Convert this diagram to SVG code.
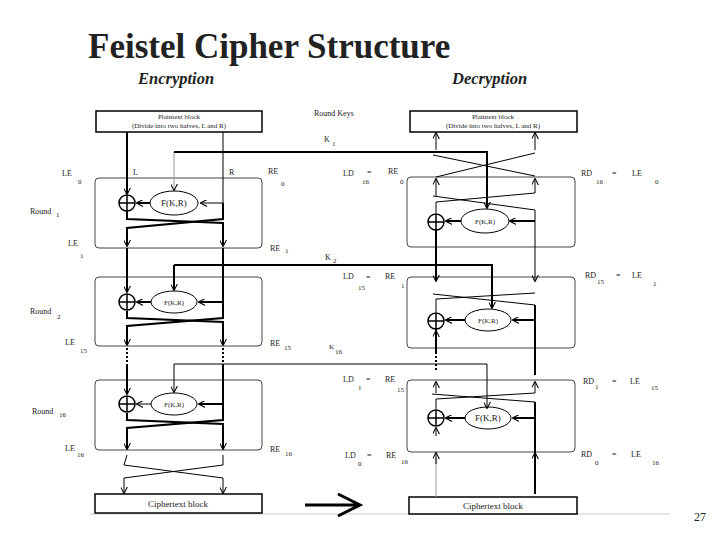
<svg xmlns="http://www.w3.org/2000/svg" width="720" height="540" viewBox="0 0 720 540">
<style>
text{font-family:"Liberation Serif",serif;fill:#222}
.s{font-size:8px}.l{font-size:9px}.b{font-size:7px}
.box{fill:#fff;stroke:#000;stroke-width:1.5}
.rnd{fill:none;stroke:#444;stroke-width:1}
.k{fill:none;stroke:#000;stroke-width:2}
.t{fill:none;stroke:#000;stroke-width:1}
.g{fill:none;stroke:#999;stroke-width:1}
.d{fill:none;stroke:#000;stroke-width:2;stroke-dasharray:2 2}
</style>
<defs>
<marker id="a" viewBox="0 0 10 10" refX="9" refY="5" markerWidth="7" markerHeight="7" markerUnits="userSpaceOnUse" orient="auto"><path d="M0,0L10,5L0,10" fill="none" stroke="#000" stroke-width="1.5"/></marker>
</defs>
<rect width="720" height="540" fill="#fff"/>
<text x="88" y="58" style="font-size:35px;font-weight:bold" fill="#000">Feistel Cipher Structure</text>
<text x="138" y="84" style="font-size:16.5px;font-weight:bold;font-style:italic">Encryption</text>
<text x="452" y="84" style="font-size:16.5px;font-weight:bold;font-style:italic">Decryption</text>
<line x1="90" y1="514" x2="670" y2="514" stroke="#ccc"/>
<text x="694" y="521" style="font-size:12px">27</text>

<g id="enc-plain"><rect class="box" x="96" y="111" width="166" height="21"/><text class="b" x="179" y="119" text-anchor="middle">Plaintext block</text><text class="b" x="179" y="128" text-anchor="middle">(Divide into two halves, L and R)</text></g>
<g id="dec-plain"><rect class="box" x="410" y="111" width="167" height="21"/><text class="b" x="493" y="119" text-anchor="middle">Plaintext block</text><text class="b" x="493" y="128" text-anchor="middle">(Divide into two halves, L and R)</text></g>
<g id="enc-cipher"><rect class="box" x="95" y="494" width="167" height="19"/><text class="l" x="178" y="507" text-anchor="middle">Ciphertext block</text></g>
<g id="dec-cipher"><rect class="box" x="409" y="497" width="168" height="17"/><text class="l" x="493" y="509" text-anchor="middle">Ciphertext block</text></g>

<g id="enc-rounds">
<rect class="rnd" x="95" y="178" width="167" height="70" rx="4"/>
<rect class="rnd" x="95" y="277" width="167" height="69" rx="4"/>
<rect class="rnd" x="95" y="380" width="167" height="70" rx="4"/>
</g>
<g id="dec-rounds">
<rect class="rnd" x="407" y="177" width="168" height="70" rx="4"/>
<rect class="rnd" x="407" y="277" width="168" height="71" rx="4"/>
<rect class="rnd" x="407" y="380" width="168" height="72" rx="4"/>
</g>

<g id="functions" fill="#fff" stroke="#000">
<circle cx="127" cy="203" r="8" stroke-width="1.5"/><path d="M119,203h16M127,195v16" stroke-width="1.5"/><ellipse cx="174" cy="203" rx="24" ry="12"/>
<circle cx="127" cy="302" r="8" stroke-width="1.5"/><path d="M119,302h16M127,294v16" stroke-width="1.5"/><ellipse cx="174" cy="302" rx="23" ry="11"/>
<circle cx="127" cy="404" r="8" stroke-width="1.5"/><path d="M119,404h16M127,396v16" stroke-width="1.5"/><ellipse cx="174" cy="404" rx="23" ry="11"/>
<circle cx="436" cy="222" r="8" stroke-width="1.5"/><path d="M428,222h16M436,214v16" stroke-width="1.5"/><ellipse cx="485" cy="221" rx="24" ry="12"/>
<circle cx="436" cy="321" r="8" stroke-width="1.5"/><path d="M428,321h16M436,313v16" stroke-width="1.5"/><ellipse cx="488" cy="320" rx="23" ry="11"/>
<circle cx="436" cy="418" r="8" stroke-width="1.5"/><path d="M428,418h16M436,410v16" stroke-width="1.5"/><ellipse cx="488" cy="418" rx="23" ry="11"/>
</g>
<g id="flabels" class="l">
<text x="174" y="206" text-anchor="middle" class="l">F(K,R)</text>
<text x="174" y="305" text-anchor="middle" class="b">F(K,R)</text>
<text x="174" y="407" text-anchor="middle" class="b">F(K,R)</text>
<text x="485" y="224" text-anchor="middle" class="b">F(K,R)</text>
<text x="488" y="323" text-anchor="middle" class="b">F(K,R)</text>
<text x="488" y="421" text-anchor="middle" class="l">F(K,R)</text>
</g>

<g id="connectors">
<path class="k" d="M127,132V194" marker-end="url(#a)"/>
<path class="t" d="M223,132V203H201" marker-end="url(#a)"/>
<path class="k" d="M150,203H137" marker-end="url(#a)"/>
<path class="g" d="M174,152V190" marker-end="url(#a)"/>
<path class="k" d="M174,152H487V207" />
<path class="t" d="M487,200V208" marker-end="url(#a)"/>
<path class="k" d="M127,211V219L223,223V246" marker-end="url(#a)"/>
<path class="k" d="M223,203V219L127,228V246" marker-end="url(#a)"/>
<path class="k" d="M127,248V292" marker-end="url(#a)"/>
<path class="k" d="M223,248V302H199" marker-end="url(#a)"/>
<path class="k" d="M151,302H137" marker-end="url(#a)"/>
<path class="k" d="M174,265V290" marker-end="url(#a)"/>
<path class="k" d="M174,265H492V308" marker-end="url(#a)"/>
<path class="k" d="M127,311V318L223,322V345" marker-end="url(#a)"/>
<path class="k" d="M223,302V318L127,326V345" marker-end="url(#a)"/>
<path class="d" d="M127,348V366M223,348V366"/>
<path class="k" d="M127,366V394" marker-end="url(#a)"/>
<path class="k" d="M223,366V404H199" marker-end="url(#a)"/>
<path class="t" d="M151,404H137" marker-end="url(#a)"/>
<path class="t" d="M174,364V392" marker-end="url(#a)"/>
<path class="t" d="M174,364H487V408" marker-end="url(#a)"/>
<path class="k" d="M127,413V420L223,424V449" marker-end="url(#a)"/>
<path class="k" d="M223,404V420L127,428V449" marker-end="url(#a)"/>
<path class="t" d="M124,465L127,455M223,455V465"/>
<path class="t" d="M124,465L223,478V493" marker-end="url(#a)"/>
<path class="t" d="M223,465L124,478V493" marker-end="url(#a)"/>
<path d="M305,505H358M338,494L360,505L338,516" fill="none" stroke="#000" stroke-width="3"/>
<path class="t" d="M436,150V133" marker-end="url(#a)"/>
<path class="t" d="M535,150V133" marker-end="url(#a)"/>
<path class="t" d="M433,155L535,176M436,177L535,153"/>
<path class="t" d="M436,196V179" marker-end="url(#a)"/>
<path class="t" d="M535,193V179" marker-end="url(#a)"/>
<path class="t" d="M436,213V202L535,193M433,196L535,210"/>
<path class="k" d="M535,221H510" marker-end="url(#a)"/>
<path class="k" d="M461,221H446" marker-end="url(#a)"/>
<path class="k" d="M436,230V281" marker-end="url(#a)"/>
<path class="t" d="M535,210V281" marker-end="url(#a)"/>
<path class="t" d="M436,312V299L535,293M433,294L535,305"/>
<path class="k" d="M535,305V375" />
<path class="k" d="M535,320H513" marker-end="url(#a)"/>
<path class="k" d="M465,320H446" marker-end="url(#a)"/>
<path class="k" d="M436,345V331" marker-end="url(#a)"/>
<path class="d" d="M436,352V372"/>
<path class="d" d="M535,355V372"/>
<path class="k" d="M436,329V352"/>
<path class="t" d="M436,393V382" marker-end="url(#a)"/>
<path class="t" d="M535,393V382" marker-end="url(#a)"/>
<path class="t" d="M436,409V399L535,393M432,394L535,402"/>
<path class="k" d="M535,402V494" />
<path class="k" d="M535,418H513" marker-end="url(#a)"/>
<path class="k" d="M465,418H446" marker-end="url(#a)"/>
<path class="t" d="M436,436V428" marker-end="url(#a)"/>
<path class="g" d="M436,497V457"/>
<path class="t" d="M436,464V453" marker-end="url(#a)"/>
<path class="t" d="M535,464V453" marker-end="url(#a)"/>
</g>

<g id="labels">
<text class="s" x="62" y="176">LE</text><text class="b" x="78" y="184">0</text>
<text class="s" x="133" y="175">L</text><text class="s" x="229" y="175">R</text>
<text class="s" x="268" y="174">RE</text><text class="b" x="281" y="186">0</text>
<text class="s" x="30" y="214">Round</text><text class="b" x="56" y="217">1</text>
<text class="s" x="68" y="246">LE</text><text class="b" x="80" y="258">1</text>
<text class="s" x="270" y="251">RE</text><text class="b" x="285" y="253">1</text>
<text class="s" x="314" y="116">Round Keys</text>
<text class="s" x="324" y="142">K</text><text class="b" x="332" y="146">1</text>
<text class="s" x="325" y="260">K</text><text class="b" x="333" y="263">2</text>
<text class="s" x="30" y="314">Round</text><text class="b" x="57" y="319">2</text>
<text class="s" x="65" y="345">LE</text><text class="b" x="80" y="353">15</text>
<text class="s" x="270" y="346">RE</text><text class="b" x="284" y="350">15</text>
<text class="b" x="329" y="349">K</text><text class="b" x="335" y="354">16</text>
<text class="s" x="32" y="414">Round</text><text class="b" x="59" y="417">16</text>
<text class="s" x="65" y="451">LE</text><text class="b" x="77" y="457">16</text>
<text class="s" x="270" y="452">RE</text><text class="b" x="285" y="456">16</text>
<text class="s" x="343" y="176">LD</text><text class="b" x="362" y="184">16</text><text class="s" x="367" y="175">=</text><text class="s" x="388" y="174">RE</text><text class="b" x="400" y="184">0</text>
<text class="s" x="581" y="176">RD</text><text class="b" x="596" y="184">16</text><text class="s" x="612" y="176">=</text><text class="s" x="632" y="176">LE</text><text class="b" x="655" y="184">0</text>
<text class="s" x="343" y="279">LD</text><text class="b" x="358" y="290">15</text><text class="s" x="366" y="280">=</text><text class="s" x="385" y="279">RE</text><text class="b" x="401" y="288">1</text>
<text class="s" x="585" y="278">RD</text><text class="b" x="597" y="284">15</text><text class="s" x="616" y="278">=</text><text class="s" x="632" y="278">LE</text><text class="b" x="653" y="286">1</text>
<text class="s" x="343" y="382">LD</text><text class="b" x="358" y="390">1</text><text class="s" x="366" y="382">=</text><text class="s" x="385" y="382">RE</text><text class="b" x="397" y="392">15</text>
<text class="s" x="583" y="384">RD</text><text class="b" x="595" y="389">1</text><text class="s" x="612" y="384">=</text><text class="s" x="630" y="384">LE</text><text class="b" x="651" y="390">15</text>
<text class="s" x="345" y="458">LD</text><text class="b" x="358" y="466">0</text><text class="s" x="367" y="458">=</text><text class="s" x="386" y="458">RE</text><text class="b" x="401" y="464">16</text>
<text class="s" x="581" y="457">RD</text><text class="b" x="595" y="465">0</text><text class="s" x="612" y="457">=</text><text class="s" x="631" y="457">LE</text><text class="b" x="652" y="465">16</text>
</g>
</svg>
